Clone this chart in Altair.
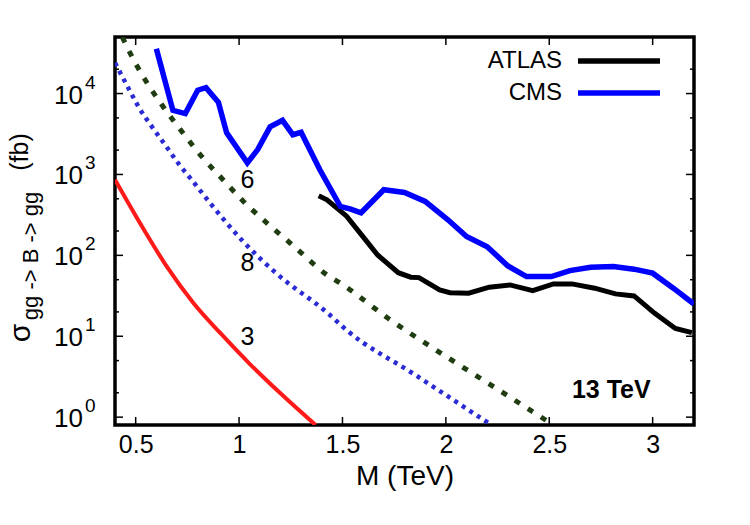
import altair as alt
import pandas as pd

# ---- experimental limits on sigma(gg -> B -> gg), fb, versus mass M, TeV ----
cms_mass = [0.60, 0.68, 0.74, 0.80, 0.84, 0.90, 0.94, 1.04, 1.09, 1.15, 1.21, 1.26,
            1.30, 1.39, 1.49, 1.54, 1.59, 1.70, 1.80, 1.90, 2.01, 2.10, 2.20, 2.30,
            2.39, 2.51, 2.60, 2.70, 2.81, 2.91, 3.00, 3.10, 3.20]
cms_xsec = [35700, 6200, 5650, 11000, 11800, 7800, 3260, 1390, 2030, 3870, 4670, 3100,
            3320, 1150, 402, 373, 336, 647, 600, 464, 275, 171, 128, 74,
            54.6, 54.6, 64.8, 71.4, 72.6, 67.5, 60.2, 39.3, 25.0]

atlas_mass = [1.385, 1.425, 1.52, 1.60, 1.67, 1.77, 1.83, 1.87, 1.97, 2.02, 2.11,
              2.21, 2.31, 2.42, 2.52, 2.61, 2.72, 2.82, 2.91, 3.01, 3.11, 3.19]
atlas_xsec = [546, 486, 305, 169, 101, 61, 53.7, 53.1, 37.4, 34.6, 34.0,
              40.4, 43.1, 36.6, 44.4, 44.4, 39.3, 33.4, 31.5, 19.2, 12.5, 11.1]

# ---- model predictions, tagged 3, 8 and 6 ----
curve3_mass = [0.40, 0.54, 0.65, 0.78, 0.91, 1.05, 1.20, 1.37]
curve3_xsec = [860, 207, 73, 25.6, 10.9, 4.6, 1.97, 0.8]

curve8_mass = [0.40, 0.466, 0.514, 0.579, 0.644, 0.708, 0.773, 0.86, 1.02, 1.18,
               1.43, 1.52, 1.84, 2.22]
curve8_xsec = [24000, 11500, 6840, 3870, 2290, 1350, 844, 443, 148, 60,
               19.2, 11.9, 3.48, 0.8]

curve6_mass = [0.435, 0.474, 0.547, 0.628, 0.725, 0.821, 0.918, 1.021, 1.135, 1.247,
               1.312, 1.425, 1.49, 1.732, 1.99, 2.232, 2.52]
curve6_xsec = [50000, 31300, 14600, 7160, 3355, 1645, 886, 464, 250, 142,
               101, 57.3, 45.3, 15.9, 5.86, 2.37, 0.8]

curve_tags = ["6", "8", "3"]
tag_mass = [1.04, 1.04, 1.04]
tag_xsec = [860, 80, 9.9]

energy_label = ["13 TeV"]
energy_mass = [2.80]
energy_xsec = [2.16]

legend_names = ["ATLAS", "CMS"]

x_ticks = [0.5, 1.0, 1.5, 2.0, 2.5, 3.0]
y_major = [1, 10, 100, 1000, 10000]
y_exponents = ["0", "1", "2", "3", "4"]
y_minor = [2, 5, 20, 50, 200, 500, 2000, 5000, 20000]

# ---- layout ----
W, H = 579, 388
FONT = "Liberation Sans"
MAJOR, MINOR = 8, 4

x_scale = alt.Scale(domain=[0.4, 3.2], nice=False, zero=False)
y_scale = alt.Scale(type="log", domain=[0.8, 5e4], nice=False)

x_axis = alt.Axis(
    values=x_ticks, ticks=False, domain=False, grid=False,
    labelFont=FONT, labelFontSize=25, labelColor="black", labelPadding=7,
    labelFlush=False,
    labelExpr="datum.value % 1 == 0 ? format(datum.value, 'd') : format(datum.value, '.1f')",
    title="M (TeV)", titleFont=FONT, titleFontSize=28, titleFontWeight="normal",
    titleColor="black", titlePadding=5,
)


def X(field="m"):
    return alt.X(f"{field}:Q", scale=x_scale, axis=x_axis)


def Y(field="s"):
    return alt.Y(f"{field}:Q", scale=y_scale, axis=None)


def series(mass, xsec):
    return pd.DataFrame({"m": mass, "s": xsec})


# model curves
c3 = alt.Chart(series(curve3_mass, curve3_xsec)).mark_line(
    color="#ff1a1a", strokeWidth=4, clip=True, interpolate="monotone"
).encode(x=X(), y=Y())

c8 = alt.Chart(series(curve8_mass, curve8_xsec)).mark_line(
    color="#2b2bd6", strokeWidth=4.5, strokeDash=[4, 5], clip=True, interpolate="monotone"
).encode(x=X(), y=Y())

c6 = alt.Chart(series(curve6_mass, curve6_xsec)).mark_line(
    color="#1f3d10", strokeWidth=5, strokeDash=[6, 9.5], clip=True, interpolate="monotone"
).encode(x=X(), y=Y())

# experimental limits
cms = alt.Chart(series(cms_mass, cms_xsec)).mark_line(
    color="#0000ff", strokeWidth=5.5, clip=True, strokeJoin="miter"
).encode(x=X(), y=Y())

atlas = alt.Chart(series(atlas_mass, atlas_xsec)).mark_line(
    color="black", strokeWidth=5, clip=True
).encode(x=X(), y=Y())

# curve tags and energy label
tags = alt.Chart(pd.DataFrame({"m": tag_mass, "s": tag_xsec, "t": curve_tags})).mark_text(
    font=FONT, fontSize=25, color="black", align="center", baseline="middle"
).encode(x=X(), y=Y(), text="t:N")

energy = alt.Chart(pd.DataFrame({"m": energy_mass, "s": energy_xsec, "t": energy_label})).mark_text(
    font=FONT, fontSize=25, fontWeight="bold", color="black", align="center", baseline="middle"
).encode(x=X(), y=Y(), text="t:N")

# inward ticks on all four sides
ymaj = pd.DataFrame({"s": y_major, "e": y_exponents})
ymin = pd.DataFrame({"s": y_minor})
xt = pd.DataFrame({"m": x_ticks})

tick_layers = [
    alt.Chart(ymaj).mark_rule(color="black", strokeWidth=1.5).encode(
        y=Y(), x=alt.value(0), x2=alt.value(MAJOR)),
    alt.Chart(ymaj).mark_rule(color="black", strokeWidth=1.5).encode(
        y=Y(), x=alt.value(W - MAJOR), x2=alt.value(W)),
    alt.Chart(ymin).mark_rule(color="black", strokeWidth=1.5).encode(
        y=Y(), x=alt.value(0), x2=alt.value(MINOR)),
    alt.Chart(ymin).mark_rule(color="black", strokeWidth=1.5).encode(
        y=Y(), x=alt.value(W - MINOR), x2=alt.value(W)),
    alt.Chart(xt).mark_rule(color="black", strokeWidth=1.5).encode(
        x=X(), y=alt.value(H - MAJOR), y2=alt.value(H)),
    alt.Chart(xt).mark_rule(color="black", strokeWidth=1.5).encode(
        x=X(), y=alt.value(0), y2=alt.value(MAJOR)),
]

# y tick labels: 10 with a raised exponent
ylab_base = alt.Chart(ymaj).mark_text(
    font=FONT, fontSize=26, color="black", align="right", baseline="alphabetic", dy=10
).encode(y=Y(), x=alt.value(-32), text=alt.value("10"))

ylab_exp = alt.Chart(ymaj).mark_text(
    font=FONT, fontSize=19, color="black", align="left", baseline="alphabetic", dy=-5
).encode(y=Y(), x=alt.value(-30), text="e:N")

# y title: sigma with subscript, then the unit
one = pd.DataFrame({"k": [0]})
ytitle = [
    alt.Chart(one).mark_text(font=FONT, fontSize=30, color="black", angle=270,
                             align="center", baseline="alphabetic").encode(
        x=alt.value(-85), y=alt.value(296), text=alt.value("σ")),
    alt.Chart(one).mark_text(font=FONT, fontSize=22, color="black", angle=270,
                             align="center", baseline="alphabetic").encode(
        x=alt.value(-77), y=alt.value(219), text=alt.value("gg -> B -> gg")),
    alt.Chart(one).mark_text(font=FONT, fontSize=25, color="black", angle=270,
                             align="center", baseline="alphabetic").encode(
        x=alt.value(-87), y=alt.value(115), text=alt.value("(fb)")),
]

# legend
leg_text = alt.Chart(pd.DataFrame({"n": legend_names, "py": [24, 56]})).mark_text(
    font=FONT, fontSize=24, color="black", align="right", baseline="middle"
).encode(x=alt.value(447), y=alt.Y("py:Q", scale=None, axis=None), text="n:N")

leg_atlas = alt.Chart(one).mark_rule(color="black", strokeWidth=5.5).encode(
    x=alt.value(463), x2=alt.value(545), y=alt.value(24))
leg_cms = alt.Chart(one).mark_rule(color="#0000ff", strokeWidth=5.5).encode(
    x=alt.value(463), x2=alt.value(545), y=alt.value(56))

chart = alt.layer(
    c3, c8, c6, atlas, cms, tags, energy,
    *tick_layers, ylab_base, ylab_exp, *ytitle,
    leg_text, leg_atlas, leg_cms,
).properties(
    width=W, height=H,
    autosize=alt.AutoSizeParams(type="none"),
    padding={"left": 115, "top": 37, "right": 56, "bottom": 100},
    background="white",
).configure_view(
    stroke="black", strokeWidth=3.5
)

chart.save("out.html", embed_options={"renderer": "svg", "actions": False})
